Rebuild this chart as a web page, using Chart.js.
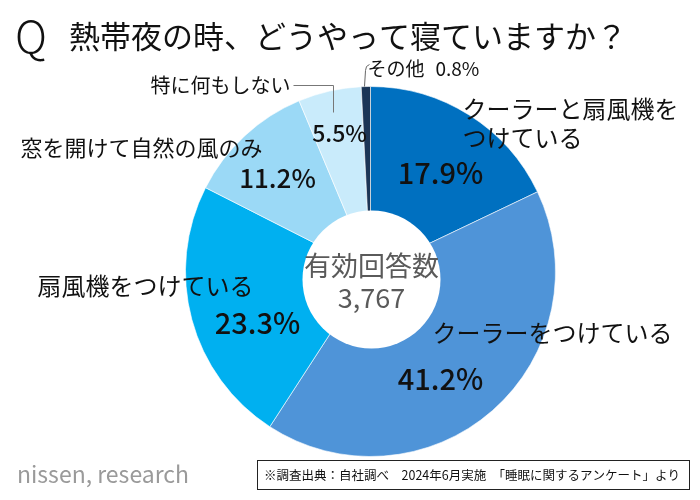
<!DOCTYPE html>
<html>
<head>
<meta charset="utf-8">
<script src="https://cdn.jsdelivr.net/npm/chart.js@4"></script>
<style>
  html, body { margin: 0; padding: 0; background: #fff; }
  #wrap { position: relative; width: 700px; height: 500px; }
</style>
</head>
<body>
<div id="wrap"><canvas id="chart" width="700" height="500"></canvas></div>
<script>
// data
var labels = ['クーラーと扇風機をつけている', 'クーラーをつけている', '扇風機をつけている', '窓を開けて自然の風のみ', '特に何もしない', 'その他'];
var values = [17.9, 41.2, 23.3, 11.2, 5.5, 0.8];
var colors = ['#0070c0', '#4f94d8', '#00b0f0', '#9bd9f6', '#c9ebfb', '#1b3556'];
var centerTitle = '有効回答数';
var centerCount = '3,767';

var FONT = '"Noto Sans CJK JP", "Noto Sans", sans-serif';

// label text lines and offsets (px from the doughnut centre, at r=185)
var labelSpec = [
  { lines: ['クーラーと扇風機を', 'つけている'], at: [92, -163], lh: 29, size: 24, align: 'left', pct: [70, -99], pctSize: 29 },
  { lines: ['クーラーをつけている'], at: [62, 61], lh: 29, size: 24, align: 'left', pct: [70, 107], pctSize: 29 },
  { lines: ['扇風機をつけている'], at: [-333, 14], lh: 29, size: 24, align: 'left', pct: [-113, 51], pctSize: 29 },
  { lines: ['窓を開けて自然の風のみ'], at: [-350, -124], lh: 29, size: 22, align: 'left', pct: [-93, -93], pctSize: 26 },
  { lines: ['特に何もしない'], at: [-80, -186], lh: 29, size: 20, align: 'right', pct: [-31, -138], pctSize: 23 },
  { lines: ['その他', '0.8%'], at: [-3, -203], lh: 29, size: 19, align: 'left', pct: null }
];

var labelPlugin = {
  id: 'sliceLabels',
  afterDatasetsDraw: function(chart) {
    var ctx = chart.ctx;
    var arc0 = chart.getDatasetMeta(0).data[0];
    var cx = arc0.x, cy = arc0.y, k = arc0.outerRadius / 185;
    ctx.save();
    // white centre disc, sits a little below the ring centre
    ctx.fillStyle = '#fff';
    ctx.beginPath();
    ctx.arc(cx + 1, cy + 8 * k, 69 * k, 0, Math.PI * 2);
    ctx.fill();

    ctx.fillStyle = '#111';
    ctx.textBaseline = 'middle';
    labelSpec.forEach(function(s, i) {
      var x = cx + s.at[0] * k, y = cy + s.at[1] * k;
      ctx.font = '400 ' + s.size + 'px ' + FONT;
      if (i === 5) {
        ctx.textAlign = 'left';
        ctx.fillText(s.lines[0], x, y);
        ctx.fillText(values[i].toFixed(1) + '%', x + 68, y);
        // leader
        ctx.strokeStyle = '#666'; ctx.lineWidth = 1;
        ctx.beginPath();
        ctx.moveTo(x + 2, y - 4); ctx.quadraticCurveTo(x - 2, y - 3, x - 2, y + 2);
        ctx.lineTo(x - 3, y + 18);
        ctx.stroke();
        return;
      }
      ctx.textAlign = s.align;
      s.lines.forEach(function(t, j) { ctx.fillText(t, x, y + j * s.lh); });
      if (i === 4) {
        ctx.strokeStyle = '#777'; ctx.lineWidth = 1;
        ctx.beginPath();
        ctx.moveTo(x + 3, y); ctx.lineTo(x + 43 * k, y); ctx.lineTo(x + 43 * k, y + 27 * k);
        ctx.stroke();
      }
      ctx.textAlign = 'center';
      ctx.font = '500 ' + s.pctSize + 'px ' + FONT;
      ctx.fillText(values[i].toFixed(1) + '%', cx + s.pct[0] * k, cy + s.pct[1] * k);
    });
    // centre text
    ctx.fillStyle = '#5a5a5a';
    ctx.textAlign = 'center';
    ctx.font = '400 27px ' + FONT;
    ctx.fillText(centerTitle, cx + 1, cy - 6);
    ctx.fillText(centerCount, cx + 1, cy + 26);
    ctx.restore();
  }
};

var framePlugin = {
  id: 'frame',
  afterDraw: function(chart) {
    var ctx = chart.ctx;
    ctx.save();
    ctx.fillStyle = '#111';
    ctx.textBaseline = 'middle';
    ctx.textAlign = 'left';
    ctx.font = '300 44px ' + FONT;
    ctx.fillText('Q', 15, 36);
    ctx.font = '400 31px ' + FONT;
    ctx.fillText('熱帯夜の時、どうやって寝ていますか？', 69, 36);
    ctx.fillStyle = '#9a9a9a';
    ctx.font = '400 23px ' + FONT;
    ctx.fillText('nissen, research', 17, 474);
    ctx.strokeStyle = '#222'; ctx.lineWidth = 1;
    ctx.strokeRect(257.5, 460.5, 432, 29);
    ctx.fillStyle = '#111';
    ctx.font = '400 12.5px ' + FONT;
    ctx.fillText('※調査出典：自社調べ　2024年6月実施　「睡眠に関するアンケート」より', 264, 475);
    ctx.restore();
  }
};

new Chart(document.getElementById('chart'), {
  type: 'doughnut',
  data: {
    labels: labels,
    datasets: [{
      data: values,
      backgroundColor: colors,
      borderColor: 'rgba(255,255,255,0.6)',
      borderWidth: 1
    }]
  },
  options: {
    responsive: false,
    animation: false,
    cutout: '25%',
    rotation: 0,
    layout: { padding: { left: 185, right: 144, top: 86, bottom: 43 } },
    plugins: { legend: { display: false }, tooltip: { enabled: false } }
  },
  plugins: [labelPlugin, framePlugin]
});
</script>
</body>
</html>
